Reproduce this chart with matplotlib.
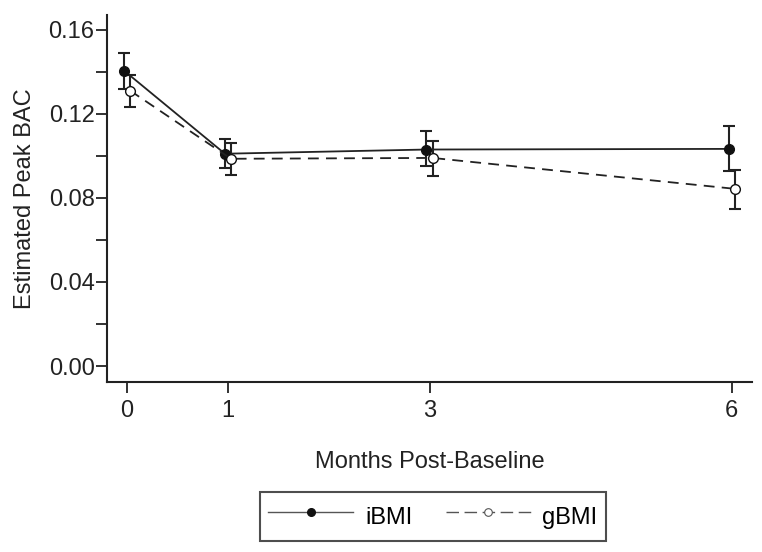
import matplotlib
matplotlib.use("Agg")
import matplotlib.pyplot as plt
from matplotlib.ticker import MultipleLocator
from matplotlib.lines import Line2D
import numpy as np

plt.rcParams['font.family'] = ['Liberation Sans', 'DejaVu Sans']

months = [0, 1, 3, 6]
ibmi = [0.1405, 0.101, 0.103, 0.1033]
ibmi_lo = [0.132, 0.094, 0.095, 0.093]
ibmi_hi = [0.149, 0.108, 0.112, 0.114]
gbmi = [0.131, 0.0986, 0.099, 0.0843]
gbmi_lo = [0.123, 0.091, 0.0905, 0.0748]
gbmi_hi = [0.1386, 0.106, 0.107, 0.0933]

fig = plt.figure(figsize=(7.62, 5.52), dpi=100)
ax = fig.add_axes([107/762, 1-382/552, (752-107)/762, (382-15)/552])

m = np.array(months, dtype=float)
ib = np.array(ibmi); gb = np.array(gbmi)
ax.errorbar(m - 0.03, ib, yerr=[ib - np.array(ibmi_lo), np.array(ibmi_hi) - ib],
            fmt='-o', color='#222222', ms=7, mfc='#111111', mec='#111111', lw=1.3,
            elinewidth=1.5, capsize=4.5, capthick=1.5, zorder=3)
ax.errorbar(m + 0.03, gb, yerr=[gb - np.array(gbmi_lo), np.array(gbmi_hi) - gb],
            fmt='--o', color='#222222', ms=7, mfc='white', mec='#111111', lw=1.3,
            dashes=(6, 4), elinewidth=1.5, capsize=4.5, capthick=1.5, zorder=3)

ax.set_xlim(-0.2, 6.2)
ax.set_ylim(-0.0076, 0.167)
ax.set_xticks(months)
ax.set_yticks([0.00, 0.04, 0.08, 0.12, 0.16])
ax.set_yticklabels(['0.00', '0.04', '0.08', '0.12', '0.16'])
ax.yaxis.set_minor_locator(MultipleLocator(0.02))
for s in ['top', 'right']:
    ax.spines[s].set_visible(False)
for s in ['left', 'bottom']:
    ax.spines[s].set_linewidth(1.5)
    ax.spines[s].set_color('#222222')
ax.tick_params(axis='both', which='both', direction='out', length=8, width=1.3,
               color='#222222', labelsize=17, labelcolor='#222222')
ax.tick_params(axis='y', pad=1)
ax.tick_params(axis='x', pad=5)
ax.set_ylabel('Estimated Peak BAC', fontsize=17, color='#222222', labelpad=9)
ax.set_xlabel('Months Post-Baseline', fontsize=17, color='#222222', labelpad=21)

handles = [
    Line2D([], [], color='#555555', lw=1.0, marker='o', ms=5.5, mfc='#111111', mec='#111111'),
    Line2D([], [], color='#555555', lw=1.0, ls=(0, (9, 4)), marker='o', ms=5.5, mfc='white', mec='#555555', mew=0.8),
]
leg = fig.legend(handles, ['iBMI', 'gBMI'], loc='center', bbox_to_anchor=(433/762, 1-516.5/552), ncol=2,
                 fontsize=17, frameon=True, fancybox=False, handlelength=3.6, handleheight=1.75,
                 columnspacing=1.4, borderpad=0.35, handletextpad=0.5)
leg.get_frame().set_edgecolor('#222222')
leg.get_frame().set_linewidth(1.5)

fig.savefig('out.png', dpi=100)
